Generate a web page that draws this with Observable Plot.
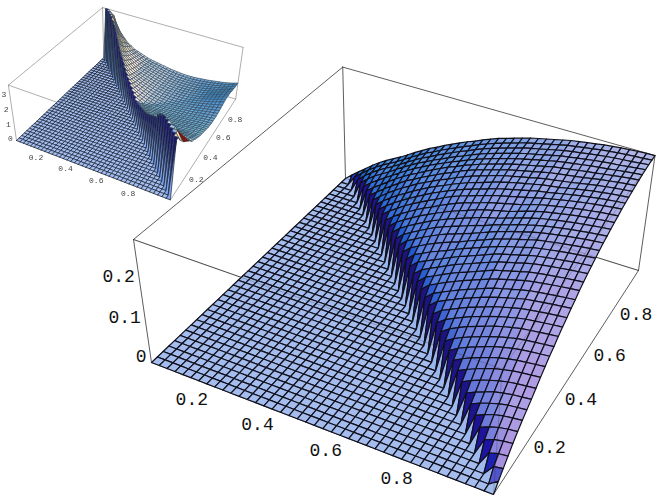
<!DOCTYPE html>
<html>
<head>
<meta charset="utf-8">
<style>html,body{margin:0;padding:0;background:#fff}svg{display:block}</style>
<script src="https://cdn.jsdelivr.net/npm/d3@7"></script>
<script src="https://cdn.jsdelivr.net/npm/@observablehq/plot@0.6"></script>
</head>
<body>
<div id="chart"></div>
<script>
const N = 40;
// main surface: height (share of the box) read along the far edges, by grid index
const mainEdge = [0,.055,.105,.155,.205,.25,.29,.325,.36,.40,.44,.478,.515,.545,.58,.61,.64,.67,.695,.725,.75,.775,.795,.815,.835,.855,.87,.885,.90,.915,.93,.94,.95,.96,.97,.978,.985,.99,.995,.998,1];
const ratioStops = [0,.05,.1,.2,.3,.5,.7,1];
const ratioWeights = [0,.53,.62,.7,.77,.88,.95,1];
const mainTop = 0.3;
// inset surface: plateau by distance from the ridge, ridge height by grid index, decay
const insetPlateau = [.4,.4,.4,.4,.4,.4,.4,.4,.4,.4,.4,.4,.4,.4,.4,.4,.4,.4,.4,.4,.4,.41,.42,.43,.44,.45,.47,.5,.53,.57,.62,.66,.7,.75,.8,.85,.9,.96,1.03,1.11,1.2];
const insetRidge = [9,9,8,7,6,5,4.2,3.6,3,2.7,2.3,2.1,1.9,1.7,1.5,1.35,1.25,1.15,1.05,.95,.85,.75,.65,.58,.5,.44,.38,.33,.29,.25,.2,.17,.14,.12,.1,.08,.06,.04,.03,.02,0];
const decayStops = [0,.05,.1,.2,.5,1];
const decayValues = [1,1,.95,.82,.62,.42];
const insetRightRise = [0,0,0,0,.2,.4,.6,.7,.75,.7,.65,.65,.62,.6,.58,.56,.54,.52,.5,.48,.46,.46,.47,.48,.5,.52,.55,.58,.6,.62,.65,.65,.62,.58,.52,.45,.36,.27,.18,.09,0];
const insetRightFade = [0,0,0,0,0,0,0,0,0,0,0,0,0,0,0,0,0,0,0,0,0,.01,.02,.04,.06,.09,.12,.16,.2,.25,.3,.36,.42,.49,.56,.64,.72,.8,.88,.94,1];
const insetRedFacet = [[38,6],[40,5],[40,8]];
const insetTop = 3.7;
// tick labels
const xyTicks = [0.2,0.4,0.6,0.8];
const mainZTicks = [0,0.1,0.2];
const insetZTicks = [0,1,2,3];
// view: perspective camera of the box
const cam = {a:296.98,b:267.29,p:-27.31,c:151,d:86.89,e:-146.19,q:-139.73,f:362,g:-.09132,h:.21243,w:-.07};
const mainView = ([u,v]) => [u,v];
const insetView = ([u,v]) => [16+.45*(u-151),140+.45*(v-362)];
function proj(x,y,z){
  const d = cam.g*x+cam.h*y+cam.w*z+1;
  return [(cam.a*x+cam.b*y+cam.p*z+cam.c)/d,(cam.d*x+cam.e*y+cam.q*z+cam.f)/d];
}
const weight = d3.scaleLinear(ratioStops,ratioWeights).clamp(true);
const decay = d3.scaleLinear(decayStops,decayValues).clamp(true);
function mainZ(i,j){
  const k=i+j-N; if(k<=0) return 0;
  return mainEdge[i]*mainEdge[j]*weight((k/N)/Math.min(i/N,j/N));
}
function insetZ(i,j){
  const k=i+j-N; if(k<=0) return 0;
  const m=Math.min(i,j);
  const z=insetPlateau[k]+insetRidge[m]*decay(k/m)+insetRightRise[j]*insetRightFade[i];
  return Math.min(z,insetTop)/insetTop;
}
// view-space axes and lights
const R=[.879,.476,0],U=[-.281,.519,.806],F=[.384,-.709,.591];
const dot=(a,b)=>a[0]*b[0]+a[1]*b[1]+a[2]*b[2];
function shade(sx,sy,tint){
  const mag=Math.hypot(sx,sy);
  const s=mag>0?(mag*.6+Math.max(0,mag-1)*.8)/mag:1;
  sx*=s;sy*=s;
  const l=Math.hypot(sx,sy,1),n=[-sx/l,-sy/l,1/l];
  const r=dot(n,R),u=dot(n,U),f=dot(n,F);
  const dr=Math.max(0,(r+f)/Math.SQRT2),dg=Math.max(0,(r+u+f)/Math.sqrt(3)),db=Math.max(0,(u+f)/Math.SQRT2);
  const c=t=>Math.round(255*Math.min(1,t));
  return `rgb(${c((.1+1.3*dr)*tint[2])},${c((.08+.82*dg)*tint[0])},${c((.39+.55*db)*tint[1])})`;
}
function surface(zf,view,opt){
  const rows=[];
  for(let j=N-1;j>=0;j--)for(let i=0;i<N;i++){
    const z00=zf(i,j),z10=zf(i+1,j),z01=zf(i,j+1),z11=zf(i+1,j+1);
    const sx=(z10+z11-z00-z01)/2*N*.4,sy=(z01+z11-z00-z10)/2*N*.4;
    const corner=z00===0&&z10===0&&z01===0&&z11>0;
    const top=i+j>=N;
    const pts=[[i,j,z00],[i+1,j,z10],[i+1,j+1,z11],[i,j+1,z01],[i,j,z00]].map(([a,b,z])=>view(proj(a/N,b/N,z)));
    const tilt=top?opt.tilt:0,tint=top?opt.tint:[1,1,1];
    const color=corner?shade(sx*.03,sy*.03,[1,1,1]):shade(sx+tilt,sy,tint);
    const cell=j*(N+1)+i,line=top?opt.lines[1]:opt.lines[0];
    pts.forEach(([u,v])=>rows.push({u,v,cell,color,line}));
  }
  return rows;
}
const corners={A:[0,0],B:[1,0],C:[1,1],D:[0,1]};
const backEdges=[["A0","A1"],["D0","D1"],["C0","C1"],["A1","D1"],["D1","C1"],["D0","C0"],["A0","D0"],["A0","B0"],["B0","C0"],["A1","B1"]];
const frontEdges=[["A1","B1"],["B1","C1"],["B0","B1"],["D0","C0"]];
function edges(list,view){
  return list.flatMap(([s,t],n)=>[s,t].map(c=>{
    const [x,y]=corners[c[0]];const [u,v]=view(proj(x,y,+c[1]));return {u,v,n};
  }));
}
function labels(view,ticks,kind,top,dx,dy,fmt){
  return ticks.map(t=>{
    const p=kind==="x"?proj(t,0,0):kind==="y"?proj(1,t,0):proj(0,0,t/top);
    const [u,v]=view(p);
    return {u:u+dx,v:v+dy,text:fmt(t)};
  });
}
const redRows=insetRedFacet.map(([i,j])=>{const [u,v]=insetView(proj(i/N,j/N,insetZ(i,j)));return {u,v};});
const f1=t=>t===0?"0":String(t);
const mono="'Liberation Mono',monospace";
const txt=(rows,size,fill,anchor)=>Plot.text(rows,{x:"u",y:"v",text:"text",fontSize:size,fontFamily:mono,fill,textAnchor:anchor||"middle"});
const plot=Plot.plot({
  width:664,height:499,margin:0,
  x:{domain:[0,664],range:[0,664],axis:null},
  y:{domain:[0,499],range:[0,499],axis:null},
  color:{type:"identity"},
  marks:[
    Plot.line(edges(backEdges,mainView),{x:"u",y:"v",z:"n",stroke:"#333",strokeWidth:.8}),
    Plot.line(surface(mainZ,mainView,{tilt:0,tint:[1,.97,1.15],lines:["#10101c","#10101c"]}),{x:"u",y:"v",z:"cell",fill:"color",stroke:"line",strokeWidth:1.2,strokeLinejoin:"round"}),
    Plot.line(edges(frontEdges,mainView),{x:"u",y:"v",z:"n",stroke:"#222",strokeWidth:.8,strokeOpacity:.3}),
    txt(labels(mainView,xyTicks,"x",1,-23,12,f1),18,"#111"),
    txt(labels(mainView,xyTicks,"y",1,22,6,f1),18,"#111"),
    txt(labels(mainView,mainZTicks,"z",mainTop,-5,-6,f1),18,"#111","end"),
    Plot.line(edges(backEdges,insetView),{x:"u",y:"v",z:"n",stroke:"#999",strokeWidth:.8}),
    Plot.line(surface(insetZ,insetView,{tilt:.2,tint:[1.05,.92,1.1],lines:["#101828","#34495e"]}),{x:"u",y:"v",z:"cell",fill:"color",stroke:"line",strokeWidth:.65,strokeLinejoin:"round"}),
    Plot.line(redRows,{x:"u",y:"v",fill:"#7d160e",stroke:"#3a0c08",strokeWidth:.5}),
    txt(labels(insetView,xyTicks,"x",1,-9,6,f1),8,"#444"),
    txt(labels(insetView,xyTicks,"y",1,10.5,3,f1),8,"#444"),
    txt(labels(insetView,insetZTicks,"z",insetTop,-6,-2,f1),8,"#444")
  ]
});
[...plot.querySelectorAll(":scope > g")].slice(-6).forEach(g=>{g.style.filter="blur(.35px)";});
document.getElementById("chart").append(plot);
</script>
</body>
</html>
